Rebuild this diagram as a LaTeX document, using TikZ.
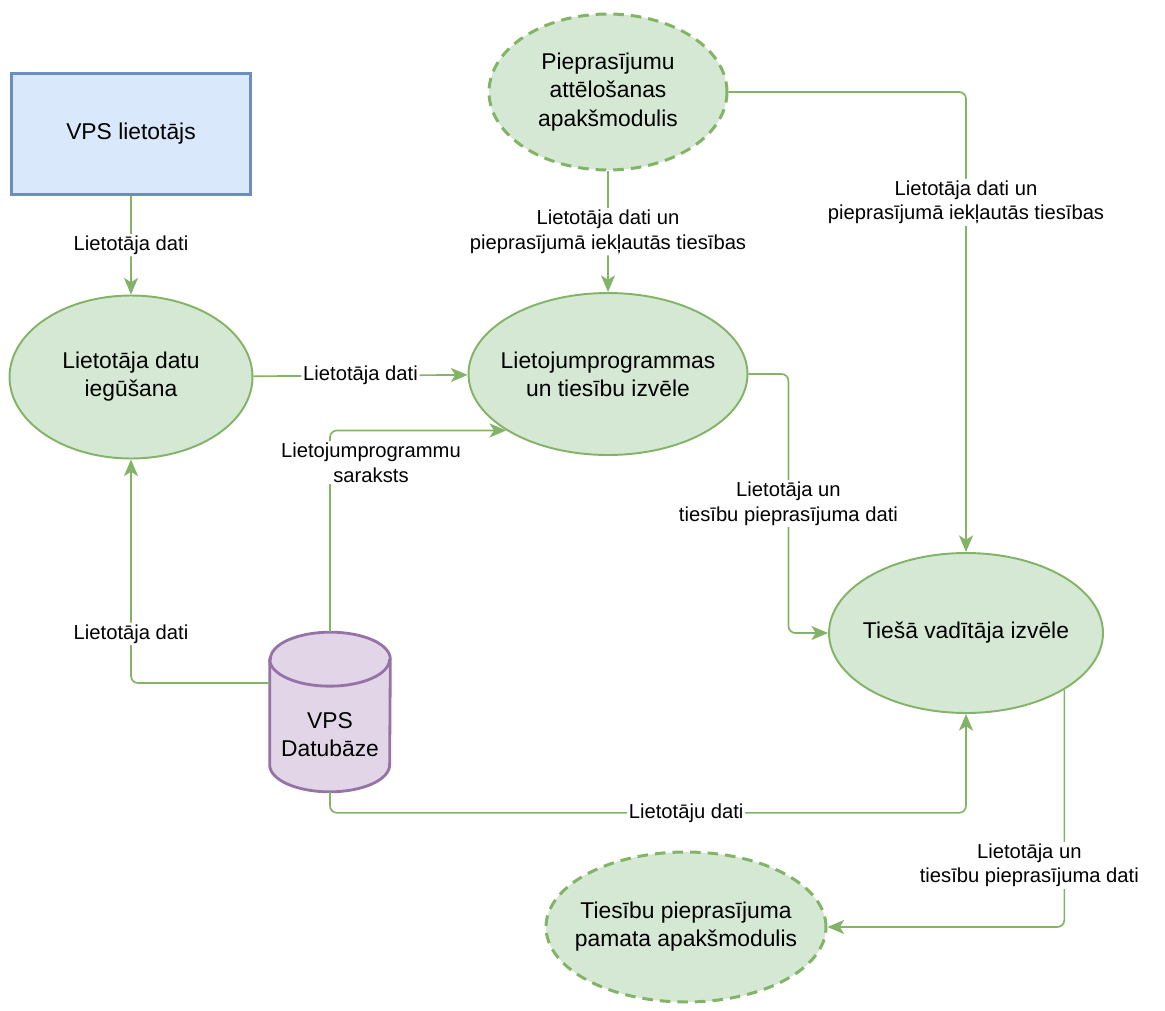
\documentclass[tikz,border=0pt]{standalone}
\usepackage{fontspec}
\setmainfont{Liberation Sans}
\usetikzlibrary{arrows.meta,shapes.geometric}
\definecolor{grfill}{HTML}{D5E8D4}
\definecolor{grline}{HTML}{82B366}
\definecolor{blfill}{HTML}{DAE8FC}
\definecolor{blline}{HTML}{6C8EBF}
\definecolor{pufill}{HTML}{E1D5E7}
\definecolor{puline}{HTML}{9673A6}

\begin{document}
\begin{tikzpicture}[x=0.02cm,y=-0.02cm,
  proc/.style={ellipse,draw=grline,fill=grfill,line width=1.1pt,inner xsep=-1.2cm,inner ysep=0pt,align=center,font=\fontsize{13}{16}\selectfont},
  submod/.style={proc,line width=1.7pt,dash pattern=on 6pt off 4pt},
  usrbox/.style={rectangle,draw=blline,fill=blfill,line width=1.6pt,minimum width=4.78cm,minimum height=2.42cm,font=\fontsize{13}{16}\selectfont},
  dbbox/.style={minimum width=2.4cm,minimum height=3.18cm,inner sep=0pt},
  cyl/.style={draw=puline,fill=pufill,line width=1.6pt},
  flow/.style={draw=grline,line width=0.95pt,rounded corners=4pt,-{Stealth[length=9.5pt,width=8pt,inset=2.5pt]}},
  lbl/.style={fill=white,inner sep=1pt,align=center,font=\fontsize{11.5}{14}\selectfont}]
\useasboundingbox (0,0) rectangle (1165,1010);
%processes
\node[usrbox] (usr) at (131,134) {VPS lietotājs};
\node[proc,minimum width=4.86cm,minimum height=3.26cm] (get) at (131,377) {Lietotāja datu\\iegūšana};
\node[proc,minimum width=5.58cm,minimum height=3.24cm] (sel) at (608,374) {Lietojumprogrammas\\un tiesību izvēle};
\node[submod,minimum width=4.76cm,minimum height=3.12cm] (pie) at (608,92) {Pieprasījumu\\attēlošanas\\apakšmodulis};
\node[proc,minimum width=5.48cm,minimum height=3.2cm] (boss) at (966,633) {Tiešā vadītāja izvēle};
\node[submod,minimum width=5.6cm,minimum height=3.0cm] (base) at (686,927) {Tiesību pieprasījuma\\pamata apakšmodulis};
%database
\node[dbbox] (db) at (330,712) {};
\filldraw[cyl] ([yshift=-0.54cm]db.north west) -- ([yshift=0.54cm]db.south west)
  arc[start angle=180,end angle=360,x radius=1.2cm,y radius=0.54cm]
  -- ([yshift=-0.54cm]db.north east)
  arc[start angle=0,end angle=180,x radius=1.2cm,y radius=0.54cm] -- cycle;
\draw[cyl,fill=none] ([yshift=-0.54cm]db.north west) arc[start angle=180,end angle=360,x radius=1.2cm,y radius=0.54cm];
\node[align=center,font=\fontsize{13}{16}\selectfont] (dbtxt) at ([yshift=-0.46cm]db.center) {VPS\\Datubāze};
%data flows
\draw[flow] (usr) -- node[lbl]{Lietotāja dati} (get);
\draw[flow] (get) -- node[lbl]{Lietotāja dati} (sel);
\draw[flow] (db.north) |- node[lbl,pos=0.42,xshift=0.82cm]{Lietojumprogrammu\\saraksts} (sel.209);
\draw[flow] ([yshift=0.58cm]db.west) -| node[lbl,pos=0.61]{Lietotāja dati} (get.south);
\draw[flow] (db.south) -- ++(0,21) -| node[lbl,pos=0.28]{Lietotāju dati} (boss.south);
\draw[flow] (pie) -- node[lbl]{Lietotāja dati un\\pieprasījumā iekļautās tiesības} (sel);
\draw[flow] (pie.east) -| node[lbl,pos=0.62]{Lietotāja dati un\\pieprasījumā iekļautās tiesības} (boss.north);
\draw[flow] (sel.east) -- ++(40,0) |- node[lbl,pos=0.25]{Lietotāja un\\tiesību pieprasījuma dati} (boss.west);
\draw[flow] (boss.-30) |- node[lbl,pos=0.37,xshift=-0.7cm]{Lietotāja un\\tiesību pieprasījuma dati} (base.east);
\end{tikzpicture}
\end{document}
